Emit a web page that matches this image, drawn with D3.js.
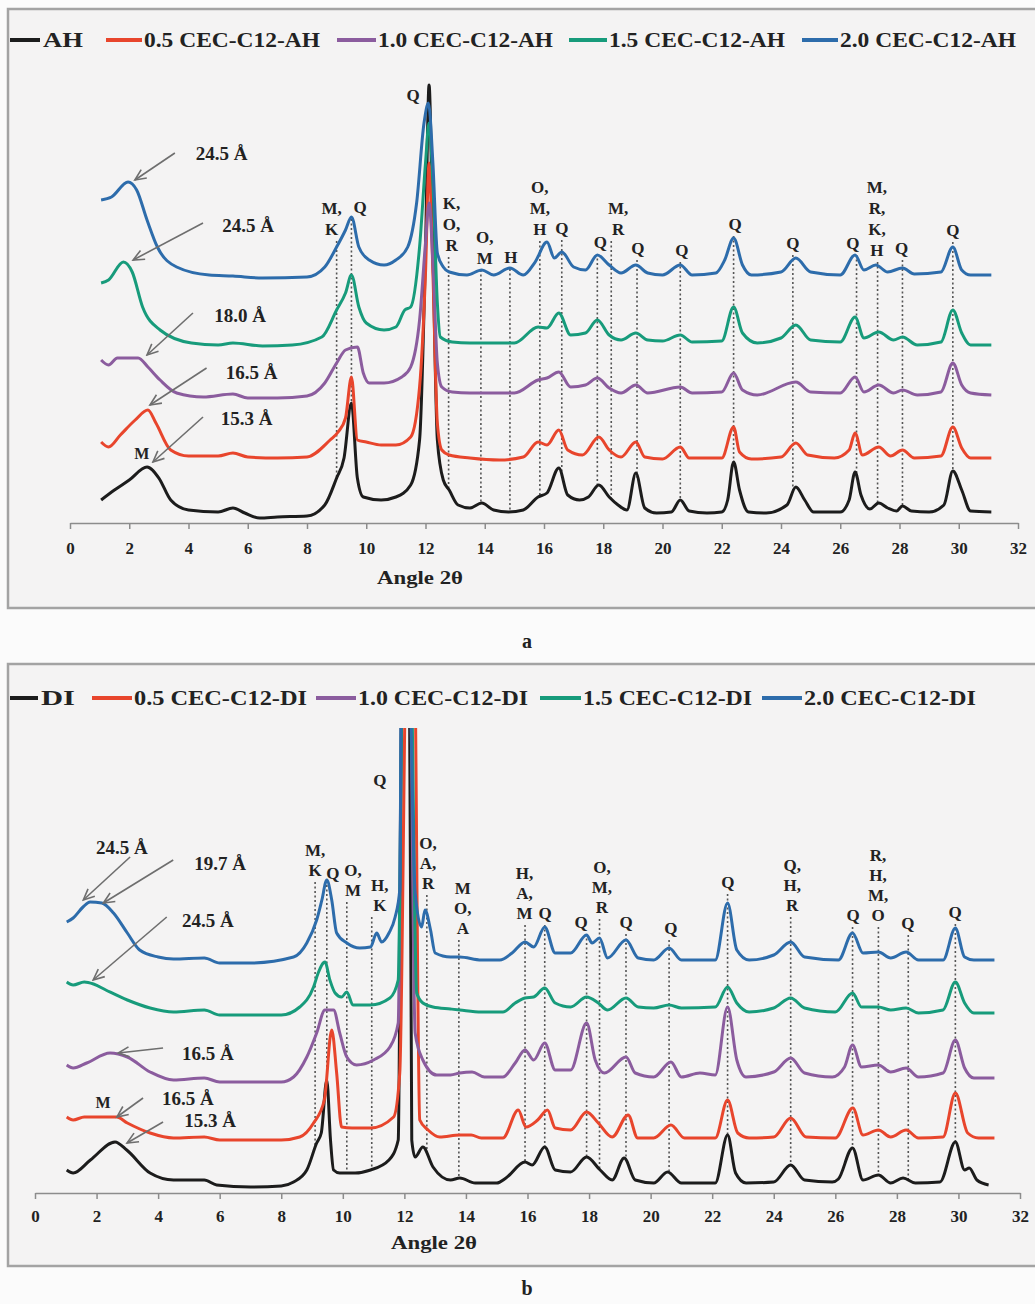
<!DOCTYPE html>
<html>
<head>
<meta charset="utf-8">
<script src="https://cdn.jsdelivr.net/npm/d3@7"></script>
<style>
  body { margin: 0; background: #fbfbfb; }
  svg text { font-family: "Liberation Serif", "Times New Roman", Times, serif; font-weight: bold; fill: #222; }
</style>
</head>
<body>
<svg id="chart" width="1035" height="1304"></svg>
<script>
// ---------- data: panel a (AH series), [2 theta, intensity a.u.] ----------
var namesA = ["AH", "0.5 CEC-C12-AH", "1.0 CEC-C12-AH", "1.5 CEC-C12-AH", "2.0 CEC-C12-AH"];

var ah = [[1.05,23],[1.5,33],[2.0,43],[2.6,56],[3.0,45],[3.4,23],[4.0,13],[5.0,11],[5.5,15],[5.9,10],[6.4,5],[7.0,6],[8.0,7],[8.6,18],[9.0,45],[9.25,65],[9.5,120],[9.7,45],[9.9,26],[10.5,23],[11.0,26],[11.5,38],[11.8,83],[12.0,273],[12.12,438],[12.25,273],[12.4,83],[12.6,43],[12.8,33],[13.1,18],[13.5,15],[13.9,20],[14.3,13],[14.8,11],[15.3,13],[15.8,26],[16.1,30],[16.5,55],[16.8,28],[17.2,23],[17.5,26],[17.85,38],[18.2,26],[18.5,18],[18.8,13],[19.1,50],[19.4,15],[19.8,10],[20.3,11],[20.6,23],[20.9,12],[21.5,10],[22.0,11],[22.2,23],[22.4,61],[22.6,33],[22.9,11],[23.5,10],[24.2,18],[24.5,36],[24.8,23],[25.1,11],[26.0,11],[26.3,23],[26.5,51],[26.7,28],[27.0,14],[27.3,20],[27.6,15],[27.9,12],[28.1,17],[28.4,12],[29.0,11],[29.5,18],[29.8,52],[30.1,33],[30.4,12],[31.1,11]];
var ah05 = [[1.05,81],[1.3,76],[1.7,88],[2.2,103],[2.63,113],[2.9,100],[3.4,73],[4.0,67],[5.0,67],[5.5,70],[6.0,66],[7.0,65],[8.0,66],[8.78,83],[9.05,91],[9.3,105],[9.5,146],[9.7,83],[10.0,81],[10.5,78],[11.0,78],[11.5,86],[11.8,136],[12.0,250],[12.12,360],[12.25,250],[12.4,100],[12.55,73],[12.8,68],[13.5,65],[14.5,63],[15.3,66],[15.8,81],[16.1,78],[16.5,93],[16.8,73],[17.3,68],[17.85,86],[18.2,73],[18.6,66],[19.1,81],[19.4,66],[20.0,64],[20.6,76],[20.9,65],[22.0,65],[22.4,96],[22.6,71],[23.0,64],[24.0,66],[24.5,80],[24.9,68],[25.8,65],[26.3,73],[26.5,90],[26.75,68],[27.3,76],[27.7,67],[28.1,73],[28.5,65],[29.4,67],[29.8,96],[30.1,75],[30.4,65],[31.1,65]];
var ah10 = [[1.05,163],[1.3,158],[1.6,165],[2.3,165],[2.63,156],[3.04,143],[3.6,130],[4.5,126],[5.5,129],[6.0,125],[7.0,125],[8.0,127],[8.6,140],[9.0,160],[9.3,173],[9.7,176],[9.9,150],[10.1,140],[10.6,140],[11.2,146],[11.5,156],[11.8,203],[12.0,280],[12.12,320],[12.25,260],[12.4,160],[12.55,136],[12.9,131],[13.5,130],[15.0,130],[15.8,143],[16.1,145],[16.5,151],[16.9,136],[17.4,138],[17.8,145],[18.2,135],[18.6,130],[19.1,138],[19.5,130],[20.6,136],[21.0,130],[22.0,131],[22.4,150],[22.7,133],[23.2,128],[24.5,141],[25.0,131],[26.0,130],[26.5,146],[26.8,131],[27.3,138],[27.8,130],[28.1,133],[28.6,128],[29.4,131],[29.8,160],[30.1,138],[30.4,130],[31.1,128]];
var ah15 = [[1.05,240],[1.3,243],[1.8,261],[2.1,251],[2.45,216],[3.04,193],[4.1,180],[5.0,178],[5.5,180],[6.5,177],[7.5,178],[8.5,186],[9.0,213],[9.3,230],[9.5,248],[9.75,216],[10.0,200],[10.6,193],[11.0,196],[11.3,213],[11.5,216],[11.8,276],[12.0,360],[12.12,400],[12.25,340],[12.4,220],[12.5,186],[12.9,181],[13.5,180],[15.0,180],[15.8,196],[16.1,195],[16.5,210],[16.9,188],[17.4,190],[17.8,203],[18.2,188],[18.6,183],[19.1,190],[19.5,183],[20.0,182],[20.6,188],[21.0,181],[22.0,182],[22.4,216],[22.7,190],[23.2,180],[24.0,185],[24.5,198],[25.0,183],[26.0,181],[26.5,206],[26.8,185],[27.3,191],[27.8,183],[28.1,186],[28.6,178],[29.4,181],[29.8,213],[30.1,190],[30.4,178],[31.1,178]];
var ah20 = [[1.05,323],[1.4,326],[1.96,341],[2.25,333],[2.6,303],[2.95,276],[3.6,256],[4.7,248],[5.5,247],[6.5,245],[8.0,246],[8.6,256],[9.0,276],[9.3,293],[9.5,306],[9.75,276],[10.1,263],[10.6,258],[11.0,263],[11.4,276],[11.7,320],[11.95,400],[12.1,420],[12.25,360],[12.4,270],[12.6,256],[12.8,251],[13.4,248],[13.9,253],[14.3,248],[14.85,255],[15.3,248],[15.7,261],[16.1,281],[16.35,265],[16.6,271],[17.0,256],[17.4,253],[17.8,268],[18.2,258],[18.6,250],[19.1,258],[19.5,250],[20.0,248],[20.6,258],[21.0,248],[21.8,250],[22.1,263],[22.4,285],[22.7,258],[23.0,248],[24.0,251],[24.5,265],[25.0,251],[26.0,248],[26.5,268],[26.8,253],[27.2,258],[27.6,251],[28.1,255],[28.5,249],[29.4,251],[29.8,276],[30.1,253],[30.4,248],[31.1,248]];

// peak assignments: x = line position, lx = label position, y = top line level
var peaksA = [
  {x: 9.0, lx: 8.83, y: 315, t: ["M,", "K"]},
  {x: 9.5, lx: 9.79, y: 316, t: ["Q"]},
  {x: 12.78, lx: 12.88, y: 320, t: ["K,", "O,", "R"]},
  {x: 13.87, lx: 14.0, y: 286, t: ["O,", "M"]},
  {x: 14.85, lx: 14.88, y: 266, t: ["H"]},
  {x: 15.86, lx: 15.86, y: 336, t: ["O,", "M,", "H"]},
  {x: 16.6, lx: 16.6, y: 295, t: ["Q"]},
  {x: 17.8, lx: 17.9, y: 281, t: ["Q"]},
  {x: 18.27, lx: 18.5, y: 315, t: ["M,", "R"]},
  {x: 19.14, lx: 19.17, y: 275, t: ["Q"]},
  {x: 20.6, lx: 20.65, y: 273, t: ["Q"]},
  {x: 22.4, lx: 22.45, y: 299, t: ["Q"]},
  {x: 24.4, lx: 24.4, y: 280, t: ["Q"]},
  {x: 26.55, lx: 26.43, y: 280, t: ["Q"]},
  {x: 27.26, lx: 27.24, y: 336, t: ["M,", "R,", "K,", "H"]},
  {x: 28.1, lx: 28.07, y: 275, t: ["Q"]},
  {x: 29.8, lx: 29.8, y: 293, t: ["Q"]}
];
var mainQA = {lx: 11.58, y: 428};

var spacingsA = [
  {t: "24.5 Å", lx: 5.12, y: 370, from: [3.54, 370], to: [2.19, 343]},
  {t: "24.5 Å", lx: 6.01, y: 298, from: [4.49, 300], to: [2.13, 263]},
  {t: "18.0 Å", lx: 5.74, y: 208, from: [4.15, 210], to: [2.6, 168]},
  {t: "16.5 Å", lx: 6.13, y: 151, from: [4.61, 155], to: [2.7, 118]},
  {t: "15.3 Å", lx: 5.96, y: 105, from: [4.49, 106], to: [2.8, 61]},
  {t: "M", lx: 2.42, y: 70}
];

// ---------- data: panel b (DI series) ----------
var namesB = ["DI", "0.5 CEC-C12-DI", "1.0 CEC-C12-DI", "1.5 CEC-C12-DI", "2.0 CEC-C12-DI"];

var di = [[1.03,23],[1.24,20],[1.8,33],[2.6,51],[2.98,43],[3.74,20],[4.5,13],[5.5,13],[5.9,8],[7.0,6],[8.0,7],[8.4,11],[8.83,23],[9.15,50],[9.3,60],[9.48,113],[9.6,53],[9.7,23],[9.9,20],[10.4,20],[10.9,23],[11.5,33],[11.8,53],[11.95,600],[12.15,600],[12.24,53],[12.35,36],[12.6,46],[12.93,26],[13.5,13],[13.8,15],[14.3,10],[15.0,10],[15.3,15],[15.92,31],[16.15,28],[16.56,46],[16.9,23],[17.4,21],[17.92,36],[18.36,23],[18.75,13],[19.14,35],[19.5,13],[20.1,10],[20.55,21],[21.0,10],[22.1,10],[22.5,58],[22.76,20],[23.1,10],[24.0,11],[24.55,28],[25.0,13],[25.9,11],[26.1,14],[26.56,45],[26.9,13],[27.4,18],[27.8,10],[28.2,15],[28.6,10],[29.4,11],[29.9,51],[30.2,23],[30.35,25],[30.6,13],[30.98,8]];
var di05 = [[1.03,76],[1.24,73],[1.6,76],[2.65,76],[3.0,70],[3.74,60],[4.5,55],[5.5,56],[6.0,53],[8.0,53],[8.6,56],[9.05,70],[9.4,93],[9.64,163],[9.8,120],[9.96,66],[10.3,65],[10.9,65],[11.65,76],[11.85,120],[12.1,600],[12.3,600],[12.5,73],[12.77,63],[13.15,56],[13.8,58],[14.17,58],[14.5,55],[15.2,55],[15.7,83],[15.95,66],[16.33,73],[16.65,83],[16.9,65],[17.4,63],[17.92,81],[18.3,70],[18.75,56],[19.27,78],[19.58,55],[20.1,55],[20.66,68],[21.1,55],[22.1,55],[22.5,93],[22.83,60],[23.2,55],[24.0,56],[24.55,75],[25.05,56],[26.0,55],[26.57,85],[26.9,58],[27.4,63],[27.8,56],[28.3,63],[28.7,55],[29.5,56],[29.9,100],[30.3,60],[30.65,55],[31.17,55]];
var di10 = [[1.03,128],[1.24,125],[1.68,130],[2.44,140],[3.0,136],[3.74,121],[4.5,113],[5.5,115],[6.0,111],[8.0,111],[8.4,116],[8.83,136],[9.15,160],[9.42,183],[9.7,183],[9.9,160],[10.13,136],[10.45,128],[11.0,133],[11.53,146],[11.8,170],[11.95,600],[12.15,600],[12.35,160],[12.6,133],[13.05,118],[13.5,118],[13.8,120],[14.2,121],[14.6,116],[15.2,116],[15.6,130],[15.92,143],[16.2,133],[16.56,150],[16.9,123],[17.4,123],[17.92,170],[18.2,133],[18.5,120],[19.2,136],[19.5,120],[20.1,116],[20.66,131],[21.0,116],[21.6,120],[22.1,118],[22.5,186],[22.8,133],[23.1,116],[24.0,121],[24.55,135],[25.0,120],[25.9,116],[26.3,126],[26.56,148],[26.85,126],[27.4,128],[27.8,121],[28.3,125],[28.7,116],[29.5,120],[29.9,153],[30.2,125],[30.5,115],[31.17,115]];
var di15 = [[1.03,211],[1.24,208],[1.6,211],[1.9,209],[2.3,203],[3.0,193],[3.74,185],[4.5,181],[5.5,183],[6.0,178],[8.0,178],[8.6,186],[9.05,206],[9.2,220],[9.42,231],[9.58,213],[9.75,200],[9.96,196],[10.13,201],[10.33,188],[10.9,188],[11.53,195],[11.8,213],[11.97,600],[12.17,600],[12.4,200],[12.6,190],[12.93,186],[13.5,184],[13.8,183],[14.5,181],[15.2,181],[15.6,190],[15.92,195],[16.2,196],[16.56,205],[16.9,190],[17.4,186],[17.92,196],[18.3,190],[18.6,183],[19.2,195],[19.6,186],[20.1,185],[20.6,188],[21.0,185],[22.1,186],[22.5,206],[22.8,190],[23.2,181],[24.0,185],[24.55,195],[25.0,185],[26.0,181],[26.56,200],[26.85,186],[27.4,186],[27.8,183],[28.3,185],[28.7,180],[29.5,183],[29.9,211],[30.2,190],[30.5,180],[31.17,180]];
var di20 = [[1.03,271],[1.24,275],[1.56,286],[1.79,291],[2.17,290],[2.55,280],[3.0,260],[3.4,243],[4.0,236],[4.5,234],[5.5,235],[6.0,230],[7.0,230],[8.4,236],[8.83,250],[9.15,273],[9.32,293],[9.48,313],[9.64,293],[9.8,260],[10.13,250],[10.55,245],[10.9,246],[11.1,260],[11.26,251],[11.5,260],[11.7,276],[11.85,303],[11.92,600],[12.1,600],[12.35,300],[12.56,266],[12.67,283],[12.85,263],[13.0,240],[13.5,236],[13.8,236],[14.5,233],[15.1,233],[15.5,240],[15.92,251],[16.2,246],[16.56,266],[16.9,240],[17.4,240],[17.92,258],[18.1,250],[18.34,255],[18.6,235],[19.2,253],[19.6,235],[20.1,233],[20.6,245],[21.0,233],[22.1,233],[22.5,290],[22.8,243],[23.2,233],[24.0,238],[24.55,251],[25.0,236],[26.1,233],[26.56,260],[26.9,240],[27.4,241],[27.8,235],[28.3,241],[28.7,233],[29.5,233],[29.9,265],[30.2,236],[30.5,233],[31.17,233]];

var peaksB = [
  {x: 9.1, lx: 9.1, y: 343, t: ["M,", "K"]},
  {x: 9.48, lx: 9.68, y: 320, t: ["Q"]},
  {x: 10.13, lx: 10.33, y: 323, t: ["O,", "M"]},
  {x: 10.94, lx: 11.2, y: 308, t: ["H,", "K"]},
  {x: 12.73, lx: 12.77, y: 350, t: ["O,", "A,", "R"]},
  {x: 13.77, lx: 13.9, y: 305, t: ["M", "O,", "A"]},
  {x: 15.92, lx: 15.9, y: 320, t: ["H,", "A,", "M"]},
  {x: 16.56, lx: 16.57, y: 280, t: ["Q"]},
  {x: 17.92, lx: 17.74, y: 271, t: ["Q"]},
  {x: 18.34, lx: 18.42, y: 326, t: ["O,", "M,", "R"]},
  {x: 19.2, lx: 19.2, y: 271, t: ["Q"]},
  {x: 20.6, lx: 20.66, y: 265, t: ["Q"]},
  {x: 22.5, lx: 22.51, y: 311, t: ["Q"]},
  {x: 24.55, lx: 24.6, y: 328, t: ["Q,", "H,", "R"]},
  {x: 26.56, lx: 26.58, y: 278, t: ["Q"]},
  {x: 27.4, lx: 27.39, y: 338, t: ["R,", "H,", "M,", "O"]},
  {x: 28.37, lx: 28.36, y: 270, t: ["Q"]},
  {x: 29.9, lx: 29.89, y: 281, t: ["Q"]}
];
var mainQB = {lx: 11.2, y: 413};

var spacingsB = [
  {t: "24.5 Å", lx: 2.82, y: 346, from: [3.09, 336], to: [1.57, 293]},
  {t: "19.7 Å", lx: 6.01, y: 330, from: [4.49, 333], to: [2.22, 290]},
  {t: "24.5 Å", lx: 5.62, y: 273, from: [4.28, 276], to: [1.89, 213]},
  {t: "16.5 Å", lx: 5.62, y: 140, from: [4.16, 145], to: [2.7, 140]},
  {t: "M", lx: 2.21, y: 91},
  {t: "16.5 Å", lx: 4.97, y: 95, from: [3.51, 95], to: [2.66, 76]},
  {t: "15.3 Å", lx: 5.69, y: 73, from: [4.16, 71], to: [2.99, 50]}
];

var tickValues = [0, 2, 4, 6, 8, 10, 12, 14, 16, 18, 20, 22, 24, 26, 28, 30, 32];
var colors = ["#1c1c1c", "#e8452c", "#8b5c9e", "#179b7b", "#2d6cab"];

// ---------- drawing ----------
var svg = d3.select("#chart");

var defs = svg.append("defs");
defs.append("marker")
  .attr("id", "arrow")
  .attr("markerUnits", "userSpaceOnUse")
  .attr("markerWidth", 14).attr("markerHeight", 12)
  .attr("refX", 12).attr("refY", 6)
  .attr("orient", "auto")
  .append("path")
  .attr("d", "M1,1 L12,6 L1,11")
  .attr("fill", "none")
  .attr("stroke", "#6e6e6e")
  .attr("stroke-width", 1.6);

// value of a trace at x, linear between read points
function valueAt(series, x) {
  var i = d3.bisector(function(d) { return d[0]; }).left(series, x);
  if (i <= 0) return series[0][1];
  if (i >= series.length) return series[series.length - 1][1];
  var a = series[i - 1], b = series[i];
  return a[1] + (b[1] - a[1]) * (x - a[0]) / (b[0] - a[0]);
}

function drawPanel(p) {
  var g = svg.append("g");

  // panel frame
  g.append("rect")
    .attr("x", 8).attr("y", p.frameTop)
    .attr("width", 1040).attr("height", p.frameBottom - p.frameTop)
    .attr("fill", "#f4f3f3")
    .attr("stroke", "#a3a3a3").attr("stroke-width", 2.5);

  var x = d3.scaleLinear().domain([0, 32]).range(p.xRange);
  var y = d3.scaleLinear().domain(p.yDomain).range(p.yRange);

  // legend
  p.names.forEach(function(name, i) {
    var L = p.legend[i];
    g.append("line")
      .attr("x1", L[0]).attr("x2", L[1])
      .attr("y1", p.legendY).attr("y2", p.legendY)
      .attr("stroke", colors[i]).attr("stroke-width", 4);
    g.append("text")
      .attr("x", L[2]).attr("y", p.legendY + 7)
      .attr("font-size", 20)
      .attr("textLength", L[3]).attr("lengthAdjust", "spacingAndGlyphs")
      .text(name);
  });

  // axis
  var axis = d3.axisBottom(x).tickValues(tickValues).tickSize(6).tickSizeOuter(0)
    .tickFormat(d3.format("d"));
  var ax = g.append("g")
    .attr("transform", "translate(0," + p.yRange[0] + ")")
    .call(axis);
  ax.select(".domain").attr("stroke", "#8c8c8c").attr("stroke-width", 1.5);
  ax.selectAll(".tick line").attr("stroke", "#8c8c8c").attr("stroke-width", 1.5);
  ax.selectAll(".tick text")
    .attr("y", p.tickDy)
    .attr("font-size", 17)
    .attr("font-family", "Liberation Serif, Times New Roman, serif")
    .attr("fill", "#222");

  g.append("text")
    .attr("x", p.titleX).attr("y", p.titleY)
    .attr("text-anchor", "middle")
    .attr("font-size", 18)
    .attr("textLength", 86).attr("lengthAdjust", "spacingAndGlyphs")
    .text("Angle 2θ");

  // dotted assignment lines (behind traces)
  var gap = p.lineGap;
  p.peaks.forEach(function(pk) {
    var top = y(pk.y) + (pk.t.length - 1) * gap + 12;
    var bottom = y(valueAt(p.series[0], pk.x));
    if (bottom > top) {
      g.append("line")
        .attr("x1", x(pk.x)).attr("x2", x(pk.x))
        .attr("y1", top).attr("y2", bottom)
        .attr("stroke", "#555").attr("stroke-width", 1.6)
        .attr("stroke-dasharray", "2,2.5");
    }
  });

  // traces
  var clipId = "clip" + p.id;
  defs.append("clipPath").attr("id", clipId)
    .append("rect")
    .attr("x", p.xRange[0] - 5).attr("y", p.yRange[1])
    .attr("width", p.xRange[1] - p.xRange[0] + 10)
    .attr("height", p.yRange[0] - p.yRange[1]);

  var line = d3.line()
    .x(function(d) { return x(d[0]); })
    .y(function(d) { return y(d[1]); })
    .curve(d3.curveMonotoneX);

  g.append("g").attr("clip-path", "url(#" + clipId + ")")
    .selectAll("path")
    .data(p.series)
    .enter().append("path")
    .attr("d", line)
    .attr("fill", "none")
    .attr("stroke", function(d, i) { return colors[i]; })
    .attr("stroke-width", 3)
    .attr("stroke-linejoin", "round");

  // peak labels
  p.peaks.forEach(function(pk) {
    pk.t.forEach(function(s, k) {
      g.append("text")
        .attr("x", x(pk.lx)).attr("y", y(pk.y) + k * gap)
        .attr("text-anchor", "middle")
        .attr("dominant-baseline", "central")
        .attr("font-size", 17)
        .text(s);
    });
  });
  g.append("text")
    .attr("x", x(p.mainQ.lx)).attr("y", y(p.mainQ.y))
    .attr("text-anchor", "middle")
    .attr("dominant-baseline", "central")
    .attr("font-size", 17)
    .text("Q");

  // basal spacing labels with arrows
  p.spacings.forEach(function(s) {
    g.append("text")
      .attr("x", x(s.lx)).attr("y", y(s.y))
      .attr("text-anchor", "middle")
      .attr("dominant-baseline", "central")
      .attr("font-size", s.t === "M" ? 16 : 19)
      .text(s.t);
    if (s.from) {
      g.append("line")
        .attr("x1", x(s.from[0])).attr("y1", y(s.from[1]))
        .attr("x2", x(s.to[0])).attr("y2", y(s.to[1]))
        .attr("stroke", "#6e6e6e").attr("stroke-width", 1.6)
        .attr("marker-end", "url(#arrow)");
    }
  });

  // panel letter
  g.append("text")
    .attr("x", 527).attr("y", p.letterY)
    .attr("text-anchor", "middle")
    .attr("dominant-baseline", "central")
    .attr("font-size", 20)
    .text(p.letter);
}

drawPanel({
  id: "a",
  frameTop: 9, frameBottom: 608,
  xRange: [70, 1018], yDomain: [0, 440], yRange: [523, 83],
  names: namesA,
  series: [ah, ah05, ah10, ah15, ah20],
  legendY: 40,
  legend: [[10, 40, 43, 40], [106, 142, 144, 176], [337, 376, 378, 175], [569, 607, 609, 176], [802, 838, 840, 176]],
  tickDy: 19, titleX: 420, titleY: 584,
  peaks: peaksA, mainQ: mainQA, spacings: spacingsA, lineGap: 21,
  letter: "a", letterY: 641
});

drawPanel({
  id: "b",
  frameTop: 664, frameBottom: 1266,
  xRange: [35, 1020], yDomain: [0, 465], yRange: [1193, 728],
  names: namesB,
  series: [di, di05, di10, di15, di20],
  legendY: 698,
  legend: [[10, 38, 41, 34], [92, 132, 134, 173], [316, 356, 358, 170], [540, 581, 583, 169], [762, 802, 804, 172]],
  tickDy: 17, titleX: 434, titleY: 1249,
  peaks: peaksB, mainQ: mainQB, spacings: spacingsB, lineGap: 20,
  letter: "b", letterY: 1288
});
</script>
</body>
</html>
